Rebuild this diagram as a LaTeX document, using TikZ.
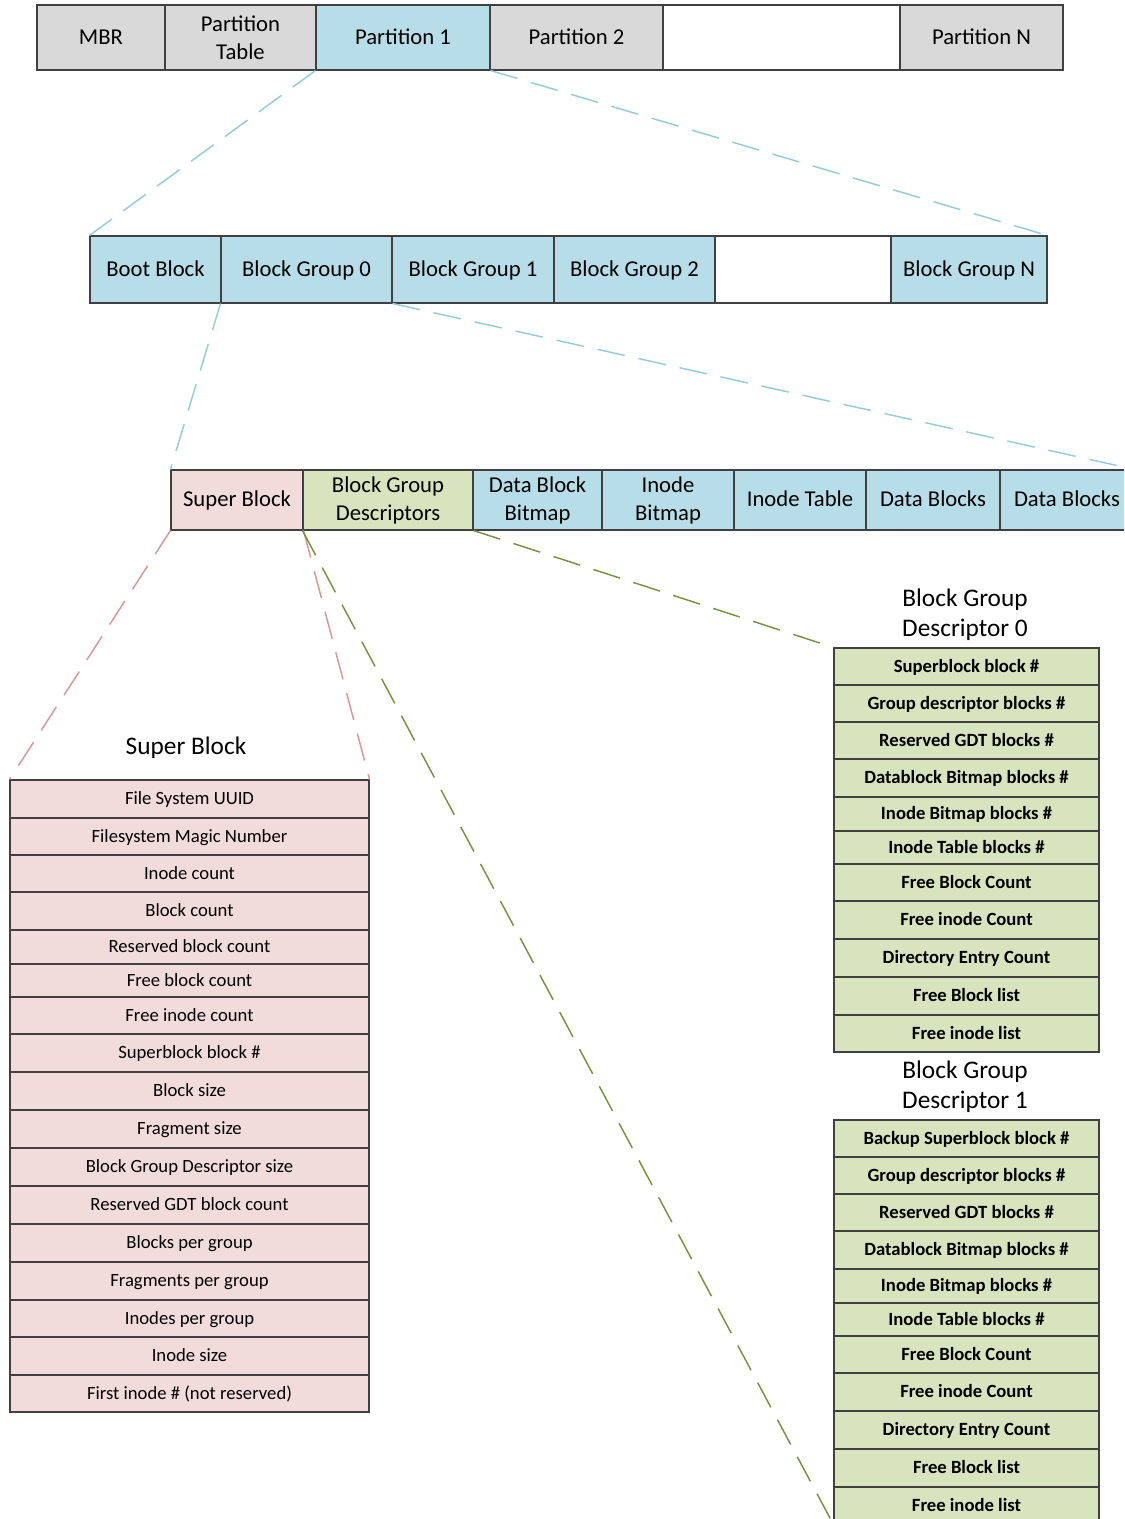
\documentclass[tikz,border=0pt]{standalone}
\usepackage{fontspec}
\setmainfont{Carlito}
\usepackage{tikz}
\usepackage{xcolor}
\usetikzlibrary{calc, positioning}

\definecolor{diskgray}{HTML}{D9D9D9}
\definecolor{partblue}{HTML}{B7DEE8}
\definecolor{sbpink}{HTML}{F2DCDB}
\definecolor{descgreen}{HTML}{D7E4BD}
\definecolor{bluelink}{HTML}{92CDDC}
\definecolor{pinklink}{HTML}{D99694}
\definecolor{greenlink}{HTML}{77933C}

\tikzset{
  cellbase/.style={draw=black!75, line width=0.8pt, inner sep=0pt, align=center,
    font=\fontsize{17}{21}\selectfont},
  cell/.style={cellbase, text height=13.6pt, text depth=3.4pt},
  sbrow/.style={cellbase, fill=sbpink, minimum width=269.25pt,
    font=\fontsize{14}{16}\selectfont, text height=11.2pt, text depth=2.8pt},
  descrow/.style={cellbase, fill=descgreen, minimum width=198.75pt,
    font=\fontsize{14}{16}\selectfont\bfseries, text height=11.2pt, text depth=2.8pt},
  tabletitle/.style={align=center, inner sep=0pt, font=\fontsize{19}{22.5}\selectfont},
  zoomline/.style={line width=1.1pt, dash pattern=on 21pt off 10.5pt}
}

\begin{document}
\begin{tikzpicture}[x=0.75pt, y=-0.75pt]
                                \clip (0, 0) rectangle (1124, 1519);

                                % disk
                                \node[cell, fill=diskgray, minimum width=96pt, minimum height=48.75pt] (mbr) at (101, 37.5) {MBR};
                                \node[cellbase, fill=diskgray, minimum width=113.25pt, minimum height=48.75pt] (ptable) at (240.5, 37.5) {Partition\\Table};
                                \node[cell, fill=partblue, minimum width=130.5pt, minimum height=48.75pt] (part1) at (403, 37.5) {Partition 1};
                                \node[cell, fill=diskgray, minimum width=129.75pt, minimum height=48.75pt] (part2) at (576.5, 37.5) {Partition 2};
                                \node[cell, fill=white, minimum width=177.75pt, minimum height=48.75pt] (partgap) at (781.5, 37.5) {};
                                \node[cell, fill=diskgray, minimum width=122.25pt, minimum height=48.75pt] (partN) at (981.5, 37.5) {Partition N};

                                % partition
                                \node[cell, fill=partblue, minimum width=98.25pt, minimum height=50.25pt] (boot) at (155.5, 269.5) {Boot Block};
                                \node[cell, fill=partblue, minimum width=128.25pt, minimum height=50.25pt] (grp0) at (306.5, 269.5) {Block Group 0};
                                \node[cell, fill=partblue, minimum width=121.5pt, minimum height=50.25pt] (grp1) at (473, 269.5) {Block Group 1};
                                \node[cell, fill=partblue, minimum width=120.75pt, minimum height=50.25pt] (grp2) at (634.5, 269.5) {Block Group 2};
                                \node[cell, fill=white, minimum width=132pt, minimum height=50.25pt] (grpgap) at (803, 269.5) {};
                                \node[cell, fill=partblue, minimum width=117pt, minimum height=50.25pt] (grpN) at (969, 269.5) {Block Group N};

                                % block group
                                \node[cell, fill=sbpink, minimum width=99pt, minimum height=45pt] (super) at (237, 500) {Super Block};
                                \node[cellbase, fill=descgreen, minimum width=127.5pt, minimum height=45pt] (gdesc) at (388, 500) {Block Group\\Descriptors};
                                \node[cellbase, fill=partblue, minimum width=96.75pt, minimum height=45pt] (dbitmap) at (537.5, 500) {Data Block\\Bitmap};
                                \node[cellbase, fill=partblue, minimum width=99pt, minimum height=45pt] (ibitmap) at (668, 500) {Inode\\Bitmap};
                                \node[cell, fill=partblue, minimum width=99pt, minimum height=45pt] (itable) at (800, 500) {Inode Table};
                                \node[cell, fill=partblue, minimum width=100.5pt, minimum height=45pt] (data1) at (933, 500) {Data Blocks};
                                \node[cell, fill=partblue, minimum width=100.5pt, minimum height=45pt] (data2) at (1067, 500) {Data Blocks};

                                % super block
                                \node[tabletitle] (sbtitle) at (186, 748) {Super Block};
                                \node[sbrow, minimum height=28.5pt] (sb1) at (189.5, 799) {File System UUID};
                                \node[sbrow, minimum height=27.75pt] (sb2) at (189.5, 836.5) {Filesystem Magic Number};
                                \node[sbrow, minimum height=27.75pt] (sb3) at (189.5, 873.5) {Inode count};
                                \node[sbrow, minimum height=28.5pt] (sb4) at (189.5, 911) {Block count};
                                \node[sbrow, minimum height=25.5pt] (sb5) at (189.5, 947) {Reserved block count};
                                \node[sbrow, minimum height=24.75pt] (sb6) at (189.5, 980.5) {Free block count};
                                \node[sbrow, minimum height=27.75pt] (sb7) at (189.5, 1015.5) {Free inode count};
                                \node[sbrow, minimum height=28.5pt] (sb8) at (189.5, 1053) {Superblock block \#};
                                \node[sbrow, minimum height=28.5pt] (sb9) at (189.5, 1091) {Block size};
                                \node[sbrow, minimum height=28.5pt] (sb10) at (189.5, 1129) {Fragment size};
                                \node[sbrow, minimum height=28.5pt] (sb11) at (189.5, 1167) {Block Group Descriptor size};
                                \node[sbrow, minimum height=28.5pt] (sb12) at (189.5, 1205) {Reserved GDT block count};
                                \node[sbrow, minimum height=28.5pt] (sb13) at (189.5, 1243) {Blocks per group};
                                \node[sbrow, minimum height=28.5pt] (sb14) at (189.5, 1281) {Fragments per group};
                                \node[sbrow, minimum height=27.75pt] (sb15) at (189.5, 1318.5) {Inodes per group};
                                \node[sbrow, minimum height=28.5pt] (sb16) at (189.5, 1356) {Inode size};
                                \node[sbrow, minimum height=27.75pt] (sb17) at (189.5, 1393.5) {First inode \# (not reserved)};

                                % block group descriptor 0
                                \node[tabletitle] (dAtitle) at (965, 615) {Block Group\\Descriptor 0};
                                \node[descrow, minimum height=27.75pt] (dA1) at (966.5, 666.5) {Superblock block \#};
                                \node[descrow, minimum height=27.75pt] (dA2) at (966.5, 703.5) {Group descriptor blocks \#};
                                \node[descrow, minimum height=27.75pt] (dA3) at (966.5, 740.5) {Reserved GDT blocks \#};
                                \node[descrow, minimum height=28.5pt] (dA4) at (966.5, 778) {Datablock Bitmap blocks \#};
                                \node[descrow, minimum height=25.5pt] (dA5) at (966.5, 814) {Inode Bitmap blocks \#};
                                \node[descrow, minimum height=24.75pt] (dA6) at (966.5, 847.5) {Inode Table blocks \#};
                                \node[descrow, minimum height=27.75pt] (dA7) at (966.5, 882.5) {Free Block Count};
                                \node[descrow, minimum height=28.5pt] (dA8) at (966.5, 920) {Free inode Count};
                                \node[descrow, minimum height=28.5pt] (dA9) at (966.5, 958) {Directory Entry Count};
                                \node[descrow, minimum height=28.5pt] (dA10) at (966.5, 996) {Free Block list};
                                \node[descrow, minimum height=27.75pt] (dA11) at (966.5, 1033.5) {Free inode list};

                                % block group descriptor 1
                                \node[tabletitle] (dBtitle) at (965, 1087) {Block Group\\Descriptor 1};
                                \node[descrow, minimum height=27.75pt] (dB1) at (966.5, 1138.5) {Backup Superblock block \#};
                                \node[descrow, minimum height=27.75pt] (dB2) at (966.5, 1175.5) {Group descriptor blocks \#};
                                \node[descrow, minimum height=27.75pt] (dB3) at (966.5, 1212.5) {Reserved GDT blocks \#};
                                \node[descrow, minimum height=28.5pt] (dB4) at (966.5, 1250) {Datablock Bitmap blocks \#};
                                \node[descrow, minimum height=25.5pt] (dB5) at (966.5, 1286) {Inode Bitmap blocks \#};
                                \node[descrow, minimum height=24.75pt] (dB6) at (966.5, 1319.5) {Inode Table blocks \#};
                                \node[descrow, minimum height=27.75pt] (dB7) at (966.5, 1354.5) {Free Block Count};
                                \node[descrow, minimum height=28.5pt] (dB8) at (966.5, 1392) {Free inode Count};
                                \node[descrow, minimum height=28.5pt] (dB9) at (966.5, 1430) {Directory Entry Count};
                                \node[descrow, minimum height=28.5pt] (dB10) at (966.5, 1468) {Free Block list};
                                \node[descrow, minimum height=27.75pt] (dB11) at (966.5, 1505.5) {Free inode list};

                                % zoom lines
                                \draw[zoomline, bluelink]
                                (part1.south west) -- (boot.north west)
                                (part1.south east) -- (grpN.north east)
                                (grp0.south west) -- (super.north west)
                                (grp0.south east) -- (data2.north east);
                                \draw[zoomline, pinklink]
                                (super.south west) -- (sb1.north west)
                                (super.south east) -- (sb1.north east);
                                \draw[zoomline, greenlink]
                                (gdesc.south west) -- (dB11.south west)
                                (gdesc.south east) -- (dA1.north west);
                            \end{tikzpicture}
\end{document}
